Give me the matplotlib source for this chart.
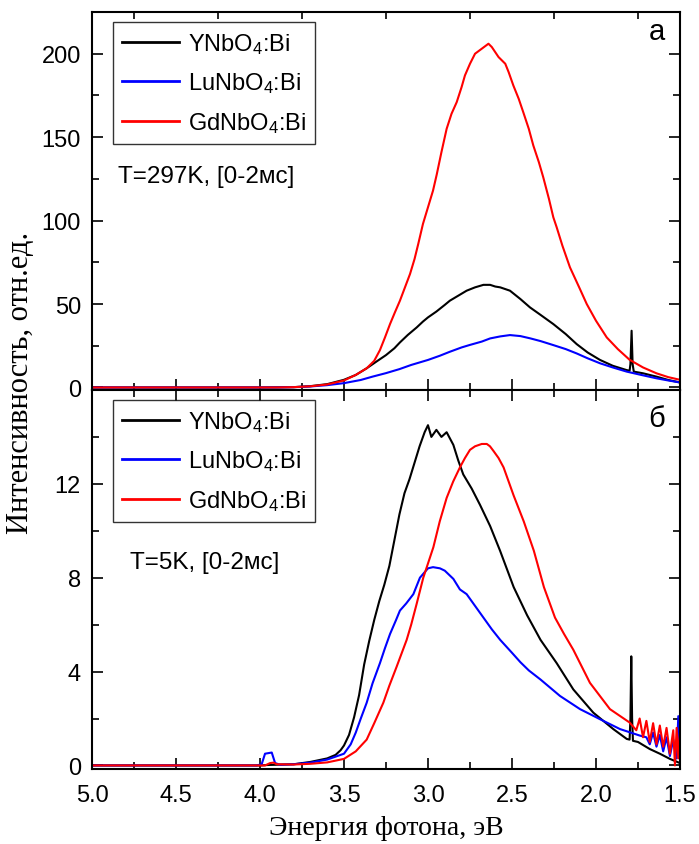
import matplotlib
matplotlib.use("Agg")
import matplotlib.pyplot as plt
from matplotlib.ticker import MultipleLocator, FixedLocator

plt.rcParams['font.family'] = ['Liberation Sans', 'DejaVu Sans']
plt.rcParams['mathtext.fontset'] = 'custom'
plt.rcParams['mathtext.rm'] = 'Liberation Sans'
plt.rcParams['mathtext.it'] = 'Liberation Sans:italic'

# --- panel a: T=297K ---
e_y_a = [5.0, 4.0, 3.8, 3.7, 3.6, 3.5, 3.43, 3.365, 3.3, 3.25, 3.2, 3.167, 3.12, 3.067, 3.03, 3.0,
         2.95, 2.9, 2.87, 2.82, 2.77, 2.72, 2.67, 2.63, 2.6, 2.57, 2.512, 2.45, 2.393, 2.33, 2.254,
         2.18, 2.115, 2.05, 1.976, 1.9, 1.82, 1.80, 1.795, 1.788, 1.782, 1.775, 1.72, 1.64, 1.57, 1.5]
i_y_a = [0, 0, 0.2, 0.8, 2.0, 4.6, 7.5, 11.5, 16, 19.4, 23.5, 27, 31.5, 36, 39.5, 42,
         45.5, 49.5, 52, 55, 58, 60, 61.5, 61.5, 60.5, 60, 58, 53, 48, 43.5, 38,
         32, 26, 21, 16.5, 13, 10.5, 10, 14, 34, 14, 9.5, 8.5, 6.5, 4.5, 3]

e_lu_a = [5.0, 3.9, 3.8, 3.7, 3.6, 3.5, 3.4, 3.33, 3.25, 3.17, 3.1, 3.0, 2.93, 2.87, 2.8, 2.754,
          2.68, 2.63, 2.57, 2.512, 2.45, 2.39, 2.33, 2.254, 2.18, 2.115, 2.05, 1.976, 1.9, 1.817,
          1.73, 1.64, 1.57, 1.5]
i_lu_a = [0, 0, 0.2, 0.6, 1.4, 2.6, 4.5, 6.5, 8.6, 11, 13.5, 16.5, 19, 21.4, 24, 25.4,
          27.5, 29.4, 30.6, 31.4, 30.8, 29.4, 27.8, 25.4, 23, 20.4, 17.5, 14.5, 12, 9.5,
          7.5, 5.5, 4.2, 3]

e_gd_a = [5.0, 3.9, 3.8, 3.7, 3.6, 3.5, 3.43, 3.365, 3.32, 3.286, 3.256, 3.226, 3.197, 3.167, 3.137,
          3.107, 3.08, 3.058, 3.03, 3.0, 2.97, 2.948, 2.92, 2.889, 2.86, 2.829, 2.8, 2.78, 2.75,
          2.72, 2.70, 2.68, 2.66, 2.64, 2.62, 2.60, 2.58, 2.56, 2.54, 2.52, 2.492, 2.46, 2.433,
          2.40, 2.373, 2.34, 2.314, 2.28, 2.254, 2.234, 2.2, 2.155, 2.1, 2.055, 2.0, 1.936, 1.87,
          1.80, 1.72, 1.64, 1.57, 1.5]
i_gd_a = [0, 0, 0.2, 0.7, 1.8, 4.2, 7.5, 11.5, 16, 22.4, 30, 38, 45, 52, 60,
          68, 77, 86, 98, 108, 118, 127.6, 141, 155, 164, 171, 180, 187, 194,
          200, 201.5, 203, 204.5, 206, 204, 201, 198, 196, 194, 189, 181, 173, 165,
          155, 145, 135, 126, 113, 102, 96, 85, 72, 60, 50, 40, 30, 23,
          16.6, 12, 8.5, 6.2, 4.6]

# --- panel b: T=5K ---
e_y_b = [5.0, 4.0, 3.95, 3.8, 3.7, 3.6, 3.55, 3.52, 3.5, 3.47, 3.44, 3.41, 3.38, 3.35, 3.32, 3.29,
         3.26, 3.23, 3.2, 3.17, 3.14, 3.11, 3.08, 3.05, 3.02, 3.0, 2.98, 2.95, 2.92, 2.889, 2.849,
         2.82, 2.79, 2.74, 2.69, 2.63, 2.571, 2.49, 2.41, 2.33, 2.234, 2.135, 2.016, 1.897, 1.817,
         1.80, 1.795, 1.79, 1.785, 1.78, 1.75, 1.68, 1.62, 1.56, 1.5]
i_y_b = [0, 0, 0.02, 0.05, 0.15, 0.3, 0.45, 0.65, 0.85, 1.3, 2.05, 3.0, 4.3, 5.3, 6.2, 7.0,
         7.7, 8.5, 9.6, 10.7, 11.6, 12.2, 12.9, 13.6, 14.2, 14.5, 14.0, 14.3, 14.0, 14.2, 13.66,
         13.0, 12.4, 11.8, 11.1, 10.2, 9.15, 7.6, 6.4, 5.35, 4.36, 3.24, 2.25, 1.55, 1.13,
         1.1, 2.0, 4.65, 2.0, 1.05, 1.0, 0.7, 0.5, 0.28, 0.1]

e_lu_b = [5.0, 4.02, 3.99, 3.97, 3.93, 3.91, 3.88, 3.8, 3.7, 3.6, 3.5, 3.46, 3.43, 3.4, 3.365, 3.33,
          3.286, 3.256, 3.226, 3.19, 3.167, 3.13, 3.087, 3.048, 3.0, 2.97, 2.929, 2.9, 2.849, 2.81,
          2.77, 2.72, 2.67, 2.62, 2.57, 2.5, 2.45, 2.4, 2.33, 2.214, 2.095, 1.976, 1.857, 1.738,
          1.70, 1.68, 1.66, 1.64, 1.62, 1.60, 1.58, 1.56, 1.54, 1.52, 1.51, 1.50]
i_lu_b = [0, 0, 0.05, 0.5, 0.55, 0.1, 0.03, 0.05, 0.12, 0.25, 0.5, 0.9, 1.4, 2.0, 2.67, 3.5,
          4.36, 5.0, 5.6, 6.2, 6.6, 6.9, 7.3, 8.0, 8.4, 8.45, 8.4, 8.3, 7.95, 7.5,
          7.3, 6.8, 6.3, 5.8, 5.35, 4.8, 4.4, 4.05, 3.66, 2.96, 2.4, 1.97, 1.55, 1.27,
          1.2, 0.9, 1.4, 0.8, 1.3, 0.6, 1.2, 0.4, 1.1, 0.3, 2.1, 0.5]

e_gd_b = [5.0, 3.97, 3.94, 3.92, 3.9, 3.8, 3.7, 3.6, 3.5, 3.43, 3.365, 3.32, 3.266, 3.23, 3.187,
          3.127, 3.1, 3.067, 3.028, 2.968, 2.93, 2.889, 2.85, 2.81, 2.78, 2.75, 2.72, 2.68, 2.65,
          2.631, 2.61, 2.58, 2.55, 2.52, 2.49, 2.43, 2.37, 2.31, 2.244, 2.19, 2.135, 2.036, 1.917,
          1.8, 1.76, 1.74, 1.72, 1.70, 1.68, 1.66, 1.64, 1.62, 1.60, 1.58, 1.56, 1.54, 1.53, 1.52,
          1.51, 1.5]
i_gd_b = [0, 0, 0.1, 0.12, 0.05, 0.04, 0.07, 0.13, 0.28, 0.6, 1.1, 1.8, 2.67, 3.4, 4.2,
          5.35, 6.0, 6.9, 8.0, 9.3, 10.4, 11.4, 12.1, 12.7, 13.1, 13.45, 13.6, 13.7, 13.7,
          13.6, 13.4, 13.1, 12.7, 12.1, 11.5, 10.4, 9.15, 7.6, 6.3, 5.6, 4.93, 3.52, 2.4,
          1.83, 1.5, 2.0, 1.2, 1.9, 1.0, 1.8, 0.9, 1.7, 0.8, 1.6, 0.5, 1.5, 0.0, 1.6,
          0.3, 1.4]

labels = [r'YNbO$_4$:Bi', r'LuNbO$_4$:Bi', r'GdNbO$_4$:Bi']
colors = ['black', '#0000ff', '#ff0000']
serif = ['Liberation Serif', 'DejaVu Serif']

fig = plt.figure(figsize=(6.99, 8.45), dpi=100)
ax1 = fig.add_axes([0.1316, 0.5373, 0.8412, 0.4473])
ax2 = fig.add_axes([0.1316, 0.0888, 0.8412, 0.4485])

panels = [
    (ax1, [(e_y_a, i_y_a), (e_lu_a, i_lu_a), (e_gd_a, i_gd_a)], (-1.5, 225),
     [0, 50, 100, 150, 200], 25, 'T=297K, [0-2мс]', (0.044, 0.566), 'а', 0.95),
    (ax2, [(e_y_b, i_y_b), (e_lu_b, i_lu_b), (e_gd_b, i_gd_b)], (-0.15, 16),
     [0, 4, 8, 12], 2, 'T=5K, [0-2мс]', (0.065, 0.546), 'б', 0.925),
]

for ax, series, ylim, major, minor, txt, txtpos, letter, ly in panels:
    for (e, v), lab, c in zip(series, labels, colors):
        ax.plot(e, v, color=c, lw=1.5, label=lab)
    ax.set_xlim(5.0, 1.5)
    ax.set_ylim(*ylim)
    ax.xaxis.set_major_locator(MultipleLocator(0.5))
    ax.xaxis.set_minor_locator(MultipleLocator(0.25))
    ax.yaxis.set_major_locator(FixedLocator(major))
    ax.yaxis.set_minor_locator(MultipleLocator(minor))
    ax.tick_params(which='both', direction='in', top=True, right=True, width=1.2,
                   labelsize=17, pad=8)
    ax.tick_params(axis='x', which='both', pad=11)
    ax.tick_params(which='major', length=8)
    ax.tick_params(which='minor', length=5)
    for s in ax.spines.values():
        s.set_linewidth(1.5)
    leg = ax.legend(loc='upper left', bbox_to_anchor=(0.036, 0.974), borderaxespad=0,
                    fontsize=17, frameon=True, fancybox=False, edgecolor='black',
                    handlelength=2.4, handletextpad=0.4, labelspacing=0.62, borderpad=0.38)
    leg.get_frame().set_linewidth(1.0)
    for line in leg.get_lines():
        line.set_linewidth(2.0)
    ax.text(txtpos[0], txtpos[1], txt, transform=ax.transAxes, fontsize=17.5, va='center')
    ax.text(0.975, ly, letter, transform=ax.transAxes, fontsize=21, ha='right', va='center')

ax1.tick_params(labelbottom=False, top=False)
ax2.set_xlabel('Энергия фотона, эВ', family=serif, fontsize=20, labelpad=6)
fig.text(0.029, 0.547, 'Интенсивность, отн.ед.', rotation=90, va='center', ha='center',
         family=serif, fontsize=22)

fig.savefig('out.png', dpi=100)
